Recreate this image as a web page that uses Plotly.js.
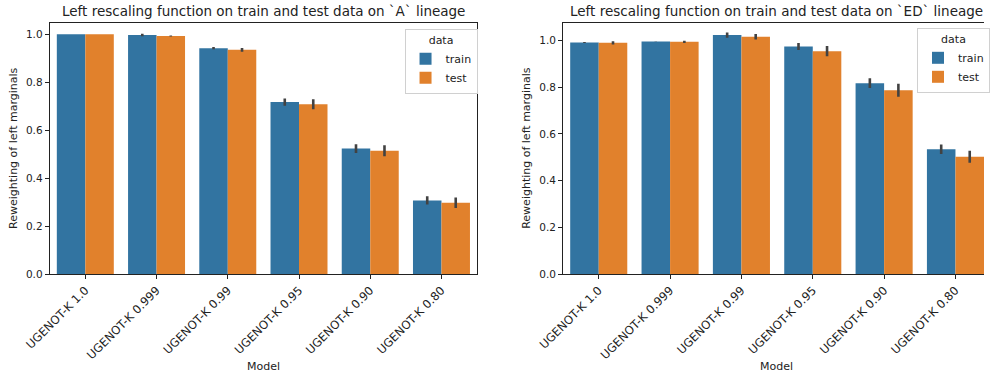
<!DOCTYPE html>
<html><head><meta charset="utf-8">
<script src="https://cdn.plot.ly/plotly-3.0.1.min.js"></script>
<style>html,body{margin:0;padding:0;background:#fff}</style>
</head><body><div id="chart" style="width:990px;height:373px"></div>
<script>
const categories = ["UGENOT-K 1.0","UGENOT-K 0.999","UGENOT-K 0.99","UGENOT-K 0.95","UGENOT-K 0.90","UGENOT-K 0.80"];
const seriesNames = ["train","test"];
const titleA = "Left rescaling function on train and test data on `A` lineage";
const titleED = "Left rescaling function on train and test data on `ED` lineage";
const trainA = [1.000, 0.997, 0.942, 0.717, 0.523, 0.307];
const testA  = [1.000, 0.993, 0.935, 0.708, 0.514, 0.297];
const trainAErr = [0.000, 0.005, 0.005, 0.015, 0.018, 0.017];
const testAErr  = [0.000, 0.002, 0.008, 0.021, 0.023, 0.022];
const trainED = [0.991, 0.995, 1.023, 0.974, 0.817, 0.534];
const testED  = [0.990, 0.994, 1.016, 0.954, 0.787, 0.502];
const trainEDErr = [0.002, 0.001, 0.011, 0.015, 0.021, 0.020];
const testEDErr  = [0.007, 0.005, 0.012, 0.022, 0.028, 0.026];
const yTitle = "Reweighting of left marginals";
const xTitle = "Model";
const legendTitle = "data";

const blue = "#3274a1", orange = "#e1812c", errCol = "#424242";
const FONT = "DejaVu Sans, sans-serif";
const FS = 10.5, XFS = 11.6, TFS = 13.5;

function bar(name, y, err, color, xa, ya, leg){
  return {type:"bar", name:name, x:categories, y:y, xaxis:xa, yaxis:ya, legend:leg,
    marker:{color:color, line:{width:0}},
    error_y:{type:"data", array:err, visible:true, color:errCol, thickness:2.6, width:0},
    hoverinfo:"y"};
}
const data = [
  bar(seriesNames[0], trainA, trainAErr, blue, "x", "y", "legend"),
  bar(seriesNames[1], testA, testAErr, orange, "x", "y", "legend"),
  bar(seriesNames[0], trainED, trainEDErr, blue, "x2", "y2", "legend2"),
  bar(seriesNames[1], testED, testEDErr, orange, "x2", "y2", "legend2")
];
const H = 373, W = 990;
const yb = (H-274)/H, ytA = (H-23)/H, ytB = (H-22.7)/H;
const axCommon = {showline:true, linecolor:"#222", linewidth:1, ticks:"outside", ticklen:4, tickcolor:"#222",
  showgrid:false, zeroline:false, tickfont:{family:FONT, size:FS, color:"#222"}};
const xTickFont = {family:FONT, size:XFS, color:"#222"};
const legCommon = {bgcolor:"rgba(255,255,255,0.8)", bordercolor:"#d0d0d0", borderwidth:1,
  font:{family:FONT, size:FS+0.5, color:"#222"}, title:{text:legendTitle, side:"top center", font:{family:FONT,size:FS+0.5,color:"#222"}},
  xanchor:"left", yanchor:"top", tracegroupgap:0, itemsizing:"constant"};
const layout = {
  width:W, height:H, margin:{l:0,r:0,t:0,b:0}, paper_bgcolor:"#fff", plot_bgcolor:"#fff",
  barmode:"group", bargap:0.2, bargroupgap:0, showlegend:true,
  font:{family:FONT, size:FS, color:"#222"},
  xaxis:Object.assign({}, axCommon, {domain:[50/W, 480/W], anchor:"y", range:[-0.5,5.5], tickangle:-45, mirror:true, tickfont:xTickFont}),
  yaxis:Object.assign({}, axCommon, {domain:[yb, ytA], anchor:"x", range:[0,1.047], tickvals:[0,0.2,0.4,0.6,0.8,1.0], tickformat:".1f", mirror:true}),
  xaxis2:Object.assign({}, axCommon, {domain:[566.5/W, 1], anchor:"y2", range:[-0.5,5.4], tickangle:-45, mirror:true, tickfont:xTickFont}),
  yaxis2:Object.assign({}, axCommon, {domain:[yb, ytB], anchor:"x2", range:[0,1.076], tickvals:[0,0.2,0.4,0.6,0.8,1.0], tickformat:".1f"}),
  legend:Object.assign({}, legCommon, {x:407/W, y:(H-29)/H}),
  legend2:Object.assign({}, legCommon, {x:923/W, y:(H-28)/H}),
  annotations:[
    {text:titleA, xref:"paper", yref:"paper", x:265/W, y:(H-11)/H, xanchor:"center", yanchor:"middle", showarrow:false, font:{family:FONT,size:TFS,color:"#222"}},
    {text:titleED, xref:"paper", yref:"paper", x:781/W, y:(H-11)/H, xanchor:"center", yanchor:"middle", showarrow:false, font:{family:FONT,size:TFS,color:"#222"}},
    {text:yTitle, xref:"paper", yref:"paper", x:13/W, y:(H-148)/H, xanchor:"center", yanchor:"middle", textangle:-90, showarrow:false, font:{family:FONT,size:11,color:"#222"}},
    {text:yTitle, xref:"paper", yref:"paper", x:529/W, y:(H-148)/H, xanchor:"center", yanchor:"middle", textangle:-90, showarrow:false, font:{family:FONT,size:11,color:"#222"}},
    {text:xTitle, xref:"paper", yref:"paper", x:265/W, y:(H-366)/H, xanchor:"center", yanchor:"middle", showarrow:false, font:{family:FONT,size:11,color:"#222"}},
    {text:xTitle, xref:"paper", yref:"paper", x:781/W, y:(H-366)/H, xanchor:"center", yanchor:"middle", showarrow:false, font:{family:FONT,size:11,color:"#222"}}
  ]
};
Plotly.newPlot("chart", data, layout, {displayModeBar:false, staticPlot:true});
</script></body></html>
